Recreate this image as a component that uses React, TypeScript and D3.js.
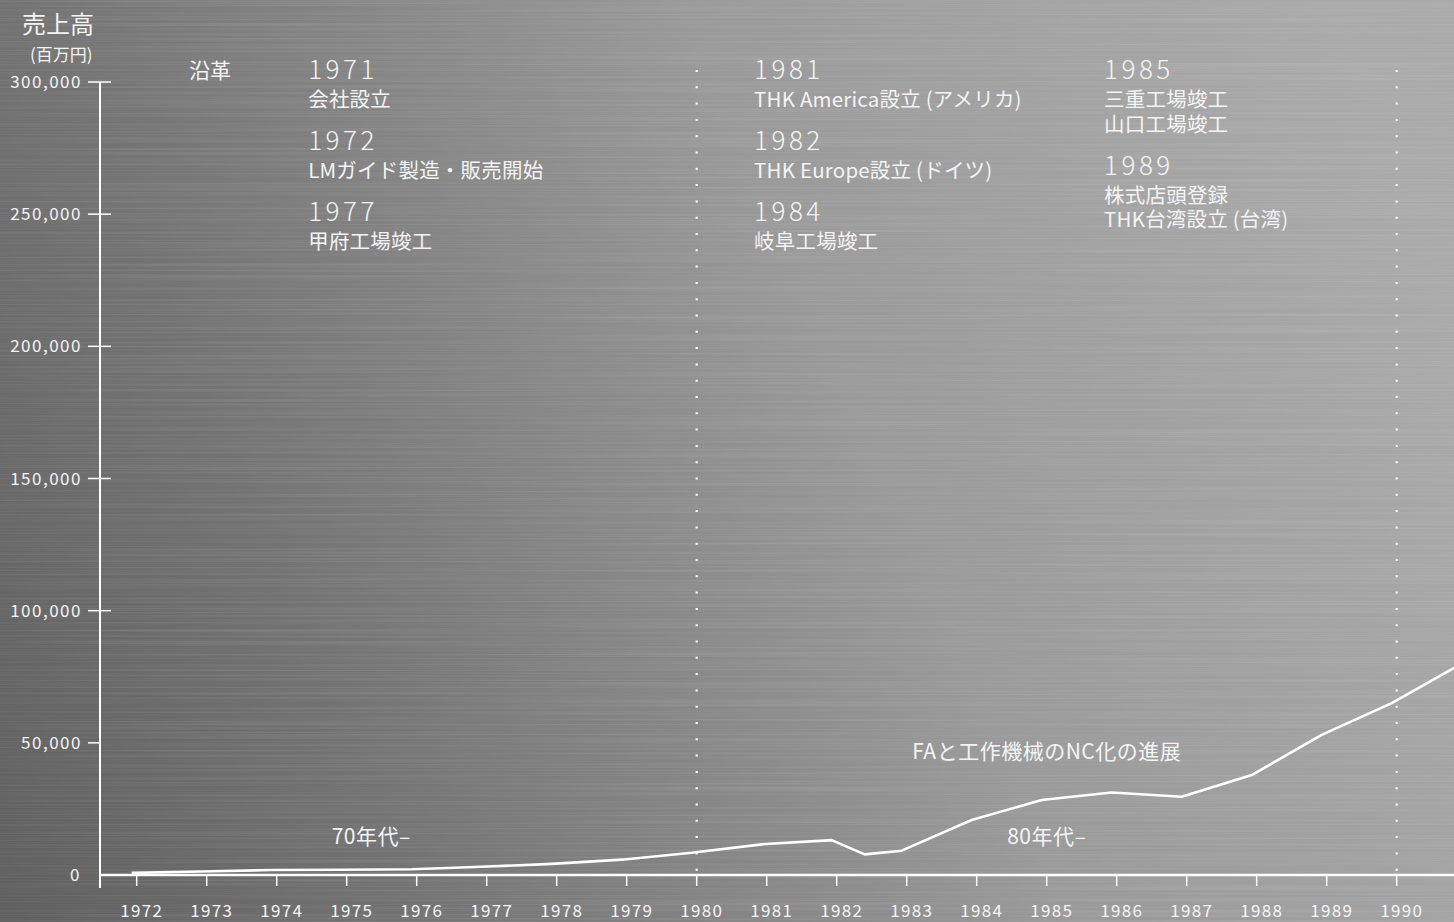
import React, { useEffect, useRef } from "react";
import * as d3 from "d3";

// 売上高 (百万円) by period; 1982.47 is the short transition period
const periods = [1972, 1973, 1974, 1975, 1976, 1977, 1978, 1979, 1980, 1981, 1982, 1982.47, 1983, 1984, 1985, 1986, 1987, 1988, 1989, 1990, 1991];
const sales = [800, 1300, 1900, 2000, 2200, 3100, 4200, 5800, 8400, 11600, 13200, 7800, 9200, 20800, 28400, 31200, 29600, 37800, 53000, 65000, 80000];

const yearTicks = [1972, 1973, 1974, 1975, 1976, 1977, 1978, 1979, 1980, 1981, 1982, 1983, 1984, 1985, 1986, 1987, 1988, 1989, 1990];
const valueTicks = [0, 50000, 100000, 150000, 200000, 250000, 300000];
const eraLines = [1980, 1990];

const historyCols = [
  { year: 1974.45, items: [
    { head: "1971", lines: ["会社設立"] },
    { head: "1972", lines: ["LMガイド製造・販売開始"] },
    { head: "1977", lines: ["甲府工場竣工"] },
  ] },
  { year: 1980.82, items: [
    { head: "1981", lines: ["THK America設立 (アメリカ)"] },
    { head: "1982", lines: ["THK Europe設立 (ドイツ)"] },
    { head: "1984", lines: ["岐阜工場竣工"] },
  ] },
  { year: 1985.82, items: [
    { head: "1985", lines: ["三重工場竣工", "山口工場竣工"] },
    { head: "1989", lines: ["株式店頭登録", "THK台湾設立 (台湾)"] },
  ] },
];

const notes = [
  { text: "70年代–", year: 1975.35, value: 11800 },
  { text: "80年代–", year: 1985.0, value: 11800 },
  { text: "FAと工作機械のNC化の進展", year: 1985.0, value: 43900 },
];

const W = 1454, H = 922;
const FONT = "'Noto Sans CJK JP', 'Noto Sans', sans-serif";

export default function App() {
  const ref = useRef<SVGSVGElement>(null);

  useEffect(() => {
    const svg = d3.select(ref.current);
    svg.selectAll("*").remove();

    const x = d3.scaleLinear().domain([1972, 1990]).range([136.7, 1396.7]);
    const y = d3.scaleLinear().domain([0, 300000]).range([875, 82]);
    const xp = (v: number) => x(v) - 5;

    const defs = svg.append("defs");
    const grad = defs.append("linearGradient")
      .attr("id", "bg").attr("gradientUnits", "userSpaceOnUse")
      .attr("x1", 0).attr("y1", H).attr("x2", W).attr("y2", 300);
    [[0, "#5e5e5e"], [0.25, "#737373"], [0.45, "#878787"], [0.62, "#999999"], [1, "#aaaaaa"]]
      .forEach(([o, c]) => grad.append("stop").attr("offset", o as number).attr("stop-color", c as string));

    const f = defs.append("filter").attr("id", "brush")
      .attr("x", 0).attr("y", 0).attr("width", 1).attr("height", 1);
    f.append("feTurbulence").attr("type", "fractalNoise")
      .attr("baseFrequency", "0.002 0.7").attr("numOctaves", 2).attr("seed", 3);
    f.append("feColorMatrix").attr("type", "matrix")
      .attr("values", "0 0 0 0 1  0 0 0 0 1  0 0 0 0 1  0 0 0 1.2 -0.45");

    svg.append("rect").attr("width", W).attr("height", H).attr("fill", "url(#bg)");
    svg.append("rect").attr("width", W).attr("height", H).attr("filter", "url(#brush)").attr("opacity", 0.16);

    const txt = "#f4f4f4";

    // header
    svg.append("text").attr("x", 22).attr("y", 33).attr("font-size", 24).text("売上高");
    svg.append("text").attr("x", 30).attr("y", 61).attr("font-size", 17).text("(百万円)");
    svg.append("text").attr("x", 189).attr("y", 78).attr("font-size", 21).text("沿革");

    // dotted era lines
    svg.selectAll(".era").data(eraLines).enter().append("line")
      .attr("x1", (d) => x(d)).attr("x2", (d) => x(d))
      .attr("y1", 70).attr("y2", 872)
      .attr("stroke", "#fff").attr("stroke-width", 2.2)
      .attr("stroke-dasharray", "2 14.3");

    // y axis
    svg.append("line").attr("x1", 100).attr("x2", 100).attr("y1", y(300000)).attr("y2", 888)
      .attr("stroke", "#fff").attr("stroke-width", 2);
    const yt = svg.selectAll(".yt").data(valueTicks).enter().append("g");
    yt.filter((d) => d > 0).append("line")
      .attr("x1", 88).attr("x2", (d) => (d === 50000 ? 100 : 111))
      .attr("y1", (d) => y(d)).attr("y2", (d) => y(d))
      .attr("stroke", "#fff").attr("stroke-width", 1.5);
    yt.append("text")
      .attr("x", (d) => (d === 0 ? 81 : 82)).attr("y", (d) => y(d) + 6)
      .attr("text-anchor", "end").attr("font-size", 17).attr("letter-spacing", 1.5)
      .text((d) => d3.format(",")(d));

    // x axis
    svg.append("line").attr("x1", 100).attr("x2", W).attr("y1", 875).attr("y2", 875)
      .attr("stroke", "#fff").attr("stroke-width", 2.5);
    svg.selectAll(".xt").data(yearTicks).enter().append("line")
      .attr("x1", (d) => x(d)).attr("x2", (d) => x(d))
      .attr("y1", 875).attr("y2", 886)
      .attr("stroke", "#fff").attr("stroke-width", 1.5);
    svg.selectAll(".xl").data(yearTicks).enter().append("text")
      .attr("x", (d) => x(d) + 5).attr("y", 917)
      .attr("text-anchor", "middle").attr("font-size", 17).attr("letter-spacing", 1.3)
      .text((d) => String(d));

    // sales line
    const line = d3.line<number>()
      .x((_, i) => xp(periods[i]))
      .y((d) => y(d));
    svg.append("path").datum(sales)
      .attr("d", line)
      .attr("fill", "none").attr("stroke", "#fff").attr("stroke-width", 2.6)
      .attr("stroke-linejoin", "round");

    // history columns
    historyCols.forEach((col) => {
      let cy = 79;
      const g = svg.append("g");
      col.items.forEach((it) => {
        g.append("text").attr("x", x(col.year)).attr("y", cy)
          .attr("font-size", 26).attr("font-weight", 300)
          .attr("letter-spacing", 3.5).text(it.head);
        cy += 28;
        it.lines.forEach((l) => {
          g.append("text").attr("x", x(col.year)).attr("y", cy)
            .attr("font-size", 20.5).attr("letter-spacing", 0.2).text(l);
          cy += 24.5;
        });
        cy += 18.5;
      });
    });

    // annotations
    svg.selectAll(".note").data(notes).enter().append("text")
      .attr("x", (d) => x(d.year)).attr("y", (d) => y(d.value))
      .attr("text-anchor", "middle").attr("font-size", 21).attr("letter-spacing", 0.5)
      .text((d) => d.text);

    svg.selectAll("text").attr("fill", txt).attr("font-family", FONT);
  }, []);

  return (
    <svg
      ref={ref}
      width={W}
      height={H}
      style={{ position: "absolute", left: 0, top: 0, display: "block" }}
    ></svg>
  );
}
